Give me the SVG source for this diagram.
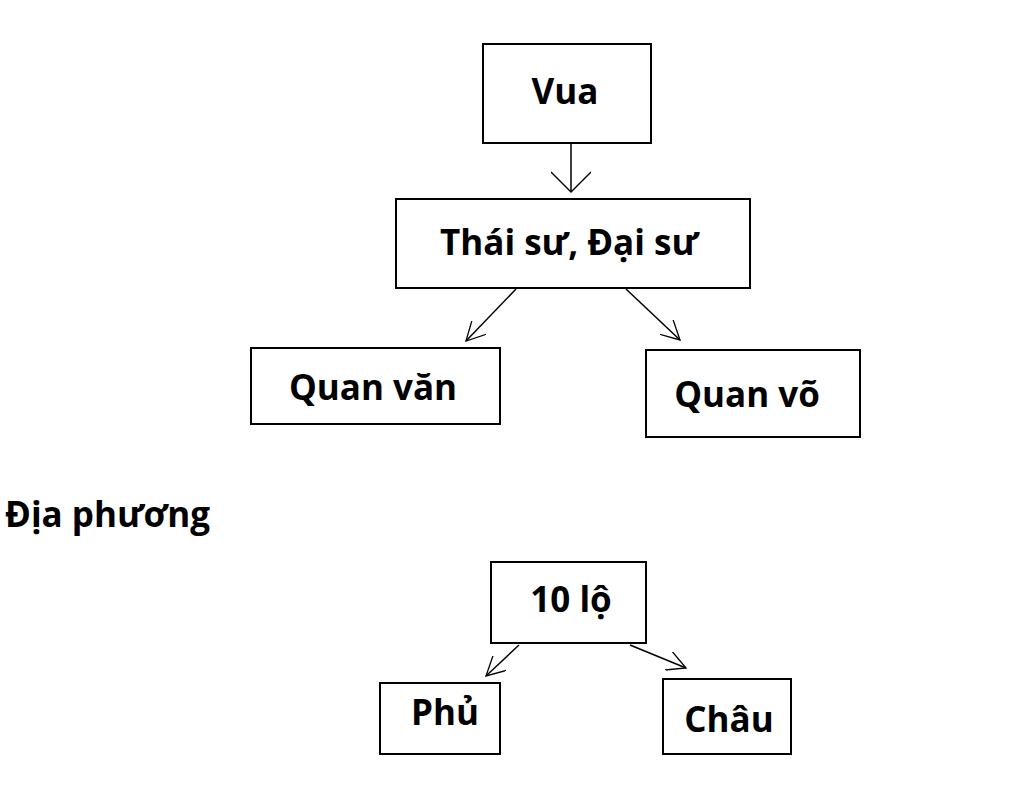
<svg xmlns="http://www.w3.org/2000/svg" width="1024" height="795" viewBox="0 0 1024 795">
<defs>
<marker id="ah" viewBox="0 0 20 20" refX="19" refY="10" markerWidth="20" markerHeight="20" markerUnits="userSpaceOnUse" orient="auto">
<path d="M0,0 L19,10 L0,20" fill="none" stroke="#000" stroke-width="1.3"/>
</marker>
<marker id="ahl" viewBox="0 0 40 40" refX="38" refY="20" markerWidth="40" markerHeight="40" markerUnits="userSpaceOnUse" orient="auto">
<path d="M18,0 L38,20 L18,40" fill="none" stroke="#000" stroke-width="1.3"/>
</marker>
</defs>
<style>
rect{fill:#fff;stroke:#000;stroke-width:2}
text{font-family:"Open Sans","DejaVu Sans",sans-serif;font-weight:bold;font-size:35px;fill:#000}
.c line{stroke:#000;stroke-width:1.5;marker-end:url(#ah)}
</style>
<rect x="0" y="0" width="1024" height="795" style="stroke:none"/>
<g id="vua"><rect x="483" y="44" width="168" height="99"/><text x="565" y="104" text-anchor="middle">Vua</text></g>
<g id="thaisu"><rect x="396" y="199" width="354" height="89"/><text x="569" y="255" text-anchor="middle">Thái sư, Đại sư</text></g>
<g id="quanvan"><rect x="251" y="348" width="249" height="76"/><text x="373" y="400" text-anchor="middle">Quan văn</text></g>
<g id="quanvo"><rect x="646" y="350" width="214" height="87"/><text x="747" y="407" text-anchor="middle">Quan võ</text></g>
<g id="diaphuong"><text x="5" y="527">Địa phương</text></g>
<g id="lo"><rect x="491" y="562" width="155" height="81"/><text x="571" y="612" text-anchor="middle">10 lộ</text></g>
<g id="phu"><rect x="380" y="683" width="120" height="71"/><text x="445" y="725" text-anchor="middle">Phủ</text></g>
<g id="chau"><rect x="663" y="679" width="128" height="75"/><text x="729" y="732" text-anchor="middle">Châu</text></g>
<g class="c" id="connectors">
<line x1="571" y1="143" x2="571" y2="192" style="marker-end:url(#ahl)"/>
<line x1="516" y1="289" x2="466" y2="341"/>
<line x1="626" y1="289" x2="680" y2="340"/>
<line x1="519" y1="645" x2="486" y2="676"/>
<line x1="630" y1="645" x2="686" y2="668"/>
</g>
</svg>
